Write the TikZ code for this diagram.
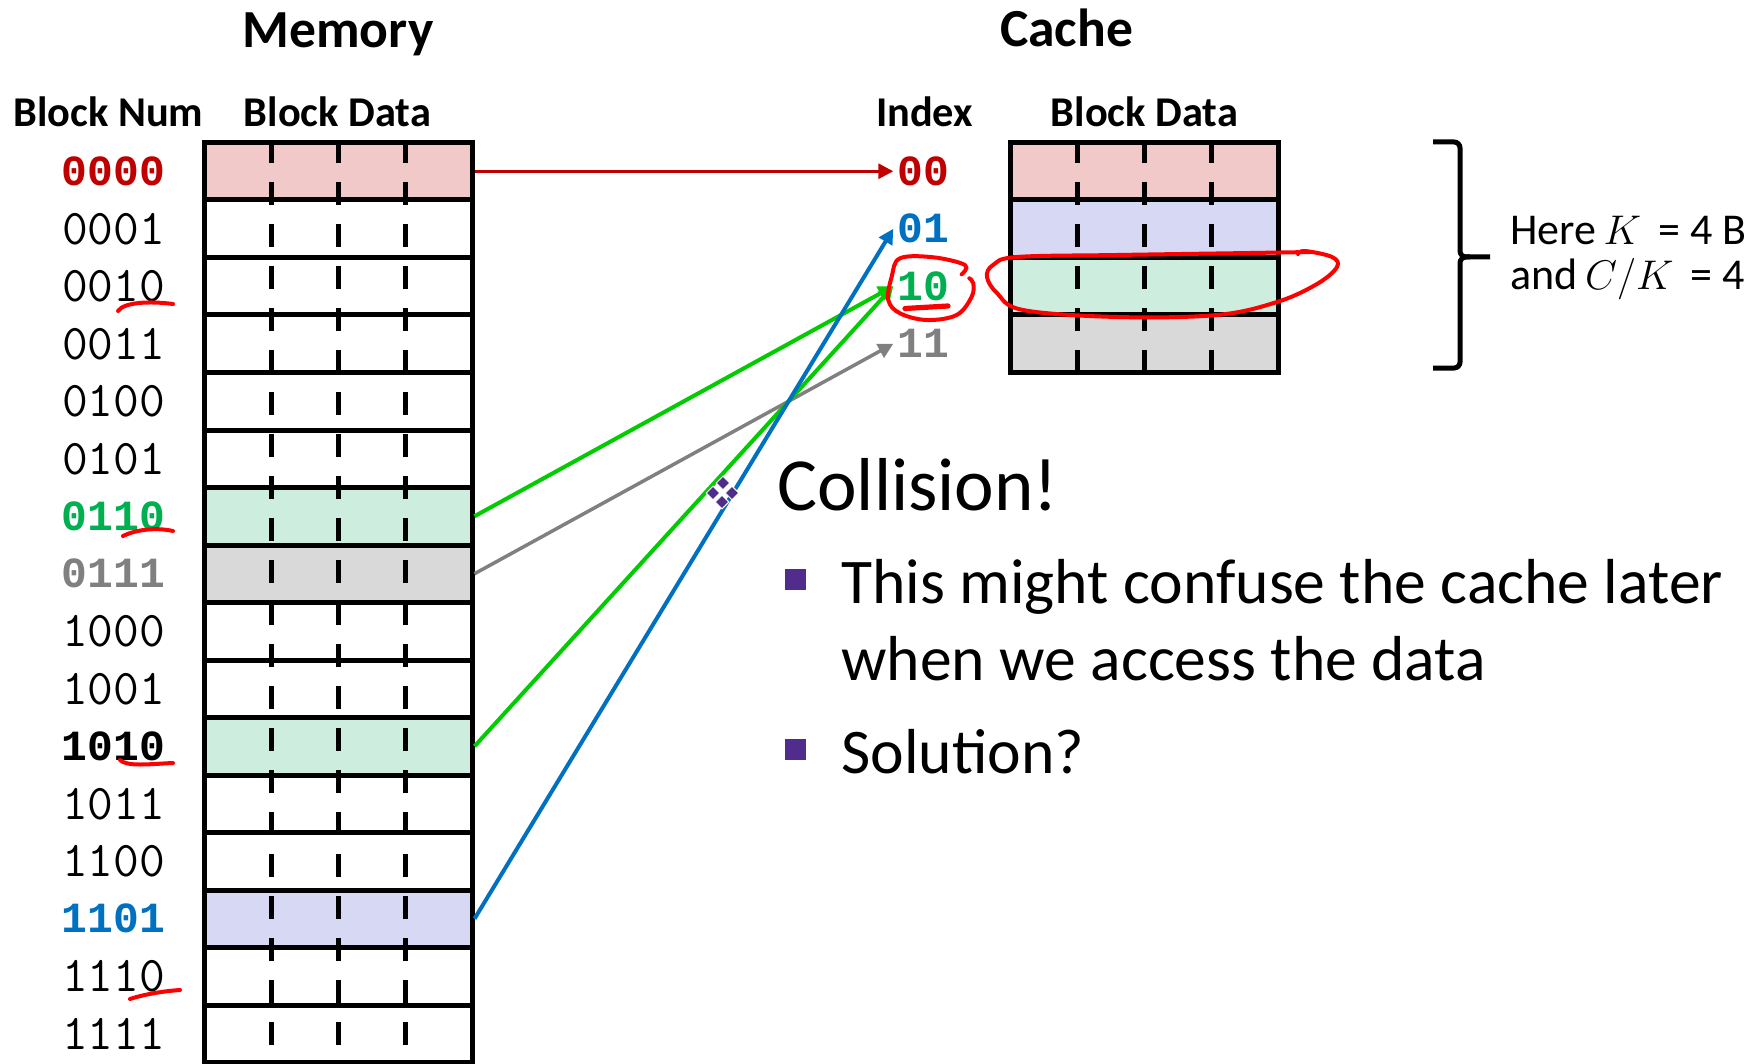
\documentclass[tikz,border=0pt]{standalone}
\usepackage{fontspec}
\setmainfont{Carlito}
\newfontfamily\codefont{Liberation Mono}
\usetikzlibrary{arrows.meta}

\definecolor{memred}{RGB}{192,0,0}
\definecolor{idxblue}{RGB}{0,112,192}
\definecolor{idxgreen}{RGB}{0,176,80}
\definecolor{idxgray}{RGB}{128,128,128}
\definecolor{linegreen}{RGB}{0,204,0}
\definecolor{fillred}{RGB}{241,201,201}
\definecolor{fillblue}{RGB}{215,216,243}
\definecolor{fillgreen}{RGB}{205,238,222}
\definecolor{fillgray}{RGB}{217,217,217}
\definecolor{bulletpurple}{RGB}{80,45,140}
\definecolor{inkred}{RGB}{255,0,0}

\tikzset{
  rowbox/.style={draw=black, line width=2.5pt, minimum width=134pt, minimum height=28.75pt, inner sep=0pt},
  datadash/.style={line width=2.5pt, dash pattern=on 11.5pt off 9.5pt},
  titletext/.style={font=\bfseries\fontsize{26.8}{26.8}\selectfont, inner sep=0pt},
  headtext/.style={font=\bfseries\fontsize{21.2}{21.2}\selectfont, inner sep=0pt},
  lbthin/.style={font={\ttfamily\fontsize{25}{25}\selectfont}, inner sep=0pt},
  lbbold/.style={font={\codefont\bfseries\fontsize{21.5}{21.5}\selectfont}, inner sep=0pt},
  lbred/.style={lbbold, text=memred},
  lbgreen/.style={lbbold, text=idxgreen},
  lbgray/.style={lbbold, text=idxgray},
  lbblue/.style={lbbold, text=idxblue},
  lbblack/.style={lbbold, text=black},
  conn/.style={line width=2pt, -{Triangle[length=7.5pt,width=7.5pt]}},
  ink/.style={draw=inkred, line width=2pt, line cap=round, line join=round},
  bodytext/.style={font=\fontsize{31.8}{31.8}\selectfont, inner sep=0pt, anchor=base west},
  sidetext/.style={font=\fontsize{22}{22}\selectfont, inner sep=0pt, anchor=base west},
  bsq/.style={fill=bulletpurple, minimum size=10.5pt, inner sep=0pt},
  movemark/.style={fill=bulletpurple, draw=white, line width=0.5pt, minimum size=4.8pt, inner sep=0pt, rotate=45},
}

\begin{document}
\begin{tikzpicture}[x=0.5pt,y=-0.5pt]
\useasboundingbox (0,0) rectangle (1762,1064);

% titles and column headers
\node[titletext, anchor=base] (memtitle) at (338,48) {Memory};
\node[titletext, anchor=base] (cachetitle) at (1066.5,47) {Cache};
\node[headtext, anchor=base west] (hnum) at (13,127) {Block Num};
\node[headtext, anchor=base] (hmemdata) at (337.5,127) {Block Data};
\node[headtext, anchor=base] (hindex) at (924.5,127) {Index};
\node[headtext, anchor=base] (hcachedata) at (1144.5,127) {Block Data};

% memory blocks
\foreach \k/\f in {0/fillred,1/white,2/white,3/white,4/white,5/white,6/fillgreen,7/fillgray,8/white,9/white,10/fillgreen,11/white,12/white,13/fillblue,14/white,15/white}
  \node[rowbox, fill=\f] (m\k) at (338,{171.25+57.5*\k}) {};
\foreach \x in {271,338,405}
  \draw[datadash] (\x,140) -- (\x,1064);

% block numbers
\foreach \k/\lab/\sty in {0/0000/lbred, 1/0001/lbthin, 2/0010/lbthin, 3/0011/lbthin, 4/0100/lbthin, 5/0101/lbthin, 6/0110/lbgreen, 7/0111/lbgray, 8/1000/lbthin, 9/1001/lbthin, 10/1010/lbblack, 11/1011/lbthin, 12/1100/lbthin, 13/1101/lbblue, 14/1110/lbthin, 15/1111/lbthin}
  \node[\sty] (n\k) at (113.5,{171.25+57.5*\k}) {\lab};

% cache blocks
\foreach \k/\f in {0/fillred,1/fillblue,2/fillgreen,3/fillgray}
  \node[rowbox, fill=\f] (c\k) at (1144,{171.25+57.5*\k}) {};
\foreach \x in {1077,1144,1211}
  \draw[datadash] (\x,140) -- (\x,372.5);

% cache indices
\node[lbred]   (i0) at (923.5,171.25) {00};
\node[lbblue]  (i1) at (923.5,228.75) {01};
\node[lbgreen] (i2) at (923.5,286.25) {10};
\node[lbgray]  (i3) at (923.5,343.75) {11};

% mapping arrows
\draw[conn, memred, line width=1.5pt] (m0.east) -- ([xshift=-2pt]i0.west);
\draw[conn, linegreen] (m6.east) -- ([xshift=-2pt]i2.west);
\draw[conn, idxgray, line width=1.75pt] (m7.east) -- ([xshift=-2pt]i3.west);
\draw[conn, linegreen] (m10.east) -- ([xshift=-2pt]i2.west);
\draw[conn, idxblue] (m13.east) -- ([xshift=-2pt]i1.west);

% brace and parameters
\draw[line width=2.5pt, rounded corners=3pt] (1433,142) -- (1460,142) -- (1460,257) -- (1490,257);
\draw[line width=2.5pt, rounded corners=3pt] (1470,257) -- (1460,257) -- (1460,368) -- (1433,368);
\node[sidetext] (kline) at (1510,245) {Here\,$K$\, = 4 B};
\node[sidetext] (ckline) at (1510,290) {and\,$C/K$\, = 4};

% collision text
\node[anchor=base west, font=\fontsize{37.5}{37.5}\selectfont, inner sep=0pt] (coll) at (777,510) {Collision!};
\node[bsq] (sq1) at (795.5,579) {};
\node[bodytext] (b1) at (841,603) {This might confuse the cache later};
\node[bodytext] (b1b) at (841,680) {when we access the data};
\node[bsq] (sq2) at (795.5,749) {};
\node[bodytext] (b2) at (841,773) {Solution?};

% small move marker
\foreach \p [count=\j] in {(723,483),(713,493),(732,493),(722,502)}
  \node[movemark] (mv\j) at \p {};

% hand-drawn annotations
\draw[ink] (118,311) .. controls (124,302) and (150,301) .. (173,304);
\draw[ink] (123,536) .. controls (135,530) and (155,527) .. (173,531);
\draw[ink] (120,760) .. controls (127,767) and (150,764) .. (173,763);
\draw[ink] (130,999) .. controls (145,994) and (165,991) .. (180,990);
\draw[ink] plot[smooth, tension=0.6] coordinates {(961.7,274.3) (965,265) (933.3,257.3) (900,258.3) (891.7,276.7) (888.3,300) (900,313.3) (926.7,320) (956.7,315) (971.7,296.7) (973.3,283.3) (969.3,278.3)};
\draw[ink, line width=2.6pt] (905,308.5) -- (948,306);
\draw[ink] plot[smooth, tension=0.6] coordinates {(1310,252) (1250,253) (1117,255) (1017,257) (993,265) (987,277) (997,293) (1023,310) (1117,317) (1217,315) (1277,302) (1317,284) (1337,267) (1332,257) (1305,251) (1298,254)};
\end{tikzpicture}
\end{document}
